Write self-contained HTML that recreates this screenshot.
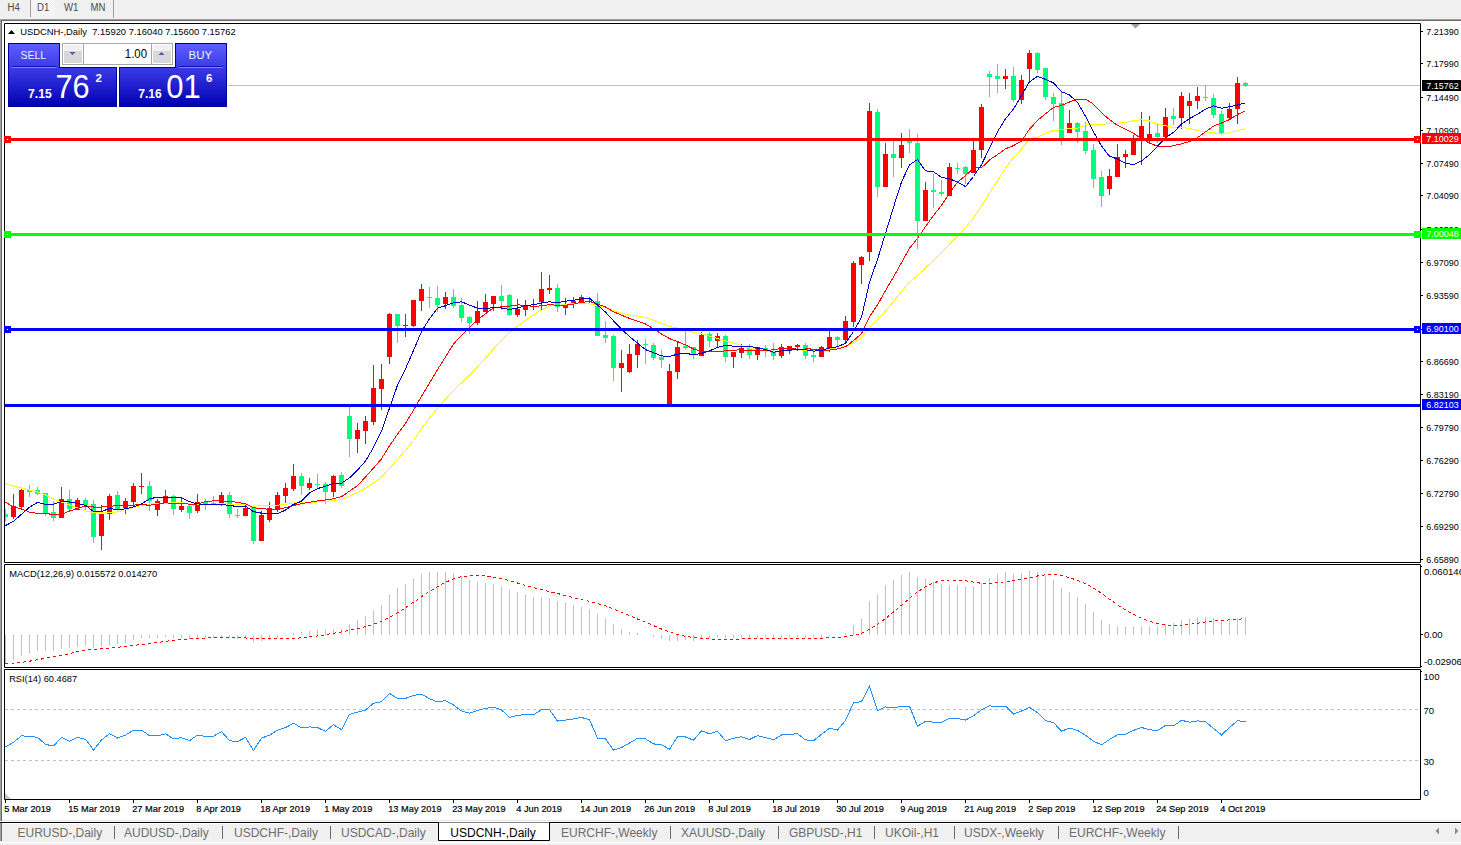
<!DOCTYPE html><html><head><meta charset="utf-8"><style>
html,body{margin:0;padding:0;width:1461px;height:845px;overflow:hidden;background:#fff}
svg{display:block}
text{font-family:"Liberation Sans",sans-serif}
</style></head><body>
<svg width="1461" height="845" viewBox="0 0 1461 845">
<defs>
<pattern id="chk" width="2" height="2" patternUnits="userSpaceOnUse"><rect width="2" height="2" fill="#f0f0f0"/><rect width="1" height="1" fill="#fafafa"/><rect x="1" y="1" width="1" height="1" fill="#fafafa"/></pattern>
<linearGradient id="gTab" x1="0" y1="0" x2="0" y2="1"><stop offset="0" stop-color="#5a5aff"/><stop offset="1" stop-color="#3232e6"/></linearGradient>
<linearGradient id="gBig" x1="0" y1="0" x2="0" y2="1"><stop offset="0" stop-color="#3c3cea"/><stop offset="1" stop-color="#0000b4"/></linearGradient>
<linearGradient id="gBtn" x1="0" y1="0" x2="0" y2="1"><stop offset="0" stop-color="#f2f2f2"/><stop offset="1" stop-color="#d2d2d2"/></linearGradient>
<clipPath id="cMain"><rect x="5" y="24" width="1415" height="538"/></clipPath>
<clipPath id="cMacd"><rect x="5" y="565" width="1415" height="102"/></clipPath>
<clipPath id="cRsi"><rect x="5" y="670" width="1415" height="129"/></clipPath>
</defs>

<rect x="0" y="0" width="1461" height="19" fill="#f0f0f0"/>
<rect x="31" y="0" width="24" height="17" fill="url(#chk)"/>
<rect x="30" y="0" width="1" height="17" fill="#a0a0a0"/><rect x="113" y="0" width="1" height="18" fill="#a0a0a0"/>
<text transform="translate(7.5 11) scale(0.96 1)" font-size="10" fill="#4a4a4a" xml:space="preserve">H4</text>
<text transform="translate(37 11) scale(0.96 1)" font-size="10" fill="#4a4a4a" xml:space="preserve">D1</text>
<text transform="translate(64 11) scale(0.96 1)" font-size="10" fill="#4a4a4a" xml:space="preserve">W1</text>
<text transform="translate(90.5 11) scale(0.96 1)" font-size="10" fill="#4a4a4a" xml:space="preserve">MN</text>
<rect x="0" y="19" width="1461" height="1" fill="#a0a0a0"/><rect x="1" y="20" width="1460" height="1" fill="#696969"/>
<rect x="0" y="19" width="1" height="802" fill="#a0a0a0"/><rect x="1" y="20" width="1" height="801" fill="#696969"/>
<path d="M4.5 23.5H1420.5V562.5H4.5Z" fill="none" stroke="#000" stroke-width="1"/>
<path d="M4.5 564.5H1420.5V667.5H4.5Z" fill="none" stroke="#000" stroke-width="1"/>
<path d="M4.5 669.5H1420.5V799.5H4.5Z" fill="none" stroke="#000" stroke-width="1"/>
<g clip-path="url(#cMain)" shape-rendering="crispEdges">
<rect x="5" y="85" width="1415" height="1" fill="#c0c0c0"/>
<path d="M13.5 494V519M21.5 488V510M61.5 487V518M77.5 498V510M101.5 505V550M109.5 494V520M125.5 498V514M133.5 483V506M141.5 473V494M157.5 499V516M165.5 490V503M181.5 497V512M197.5 494V513M221.5 492V506M245.5 507V516M261.5 511V541M269.5 502V522M277.5 492V512M285.5 483V503M293.5 464V491M309.5 478V490M333.5 475V497M357.5 423V453M365.5 416V444M373.5 365V425M381.5 364V410M389.5 313V364M405.5 314V337M413.5 300V327M421.5 284V311M445.5 292V309M477.5 301V325M485.5 294V312M493.5 296V311M517.5 299V317M525.5 300V316M533.5 299V310M541.5 272V310M549.5 275V294M565.5 298V315M573.5 297V308M581.5 295V303M589.5 297V303M621.5 350V392M629.5 344V373M637.5 340V368M669.5 364V404M677.5 342V379M701.5 332V356M717.5 333V347M733.5 352V368M741.5 344V358M757.5 347V360M781.5 344V358M789.5 346V354M797.5 344V351M821.5 346V357M829.5 331V352M845.5 316V343M853.5 261V327M861.5 256V284M869.5 103V261M885.5 143V187M901.5 133V168M925.5 182V221M949.5 163V196M973.5 141V173M981.5 104V158M1005.5 69V89M1021.5 75V104M1029.5 50V81M1069.5 110V133M1109.5 169V195M1117.5 144V177M1125.5 150V168M1133.5 135V155M1141.5 112V165M1149.5 116V143M1165.5 108V137M1181.5 92V129M1189.5 93V124M1197.5 87V109M1229.5 103V119M1237.5 77V124" stroke="#ff0000" stroke-width="1" fill="none"/>
<path d="M5.5 509V521M29.5 485V497M37.5 487V495M45.5 493V516M53.5 501V521M69.5 490V511M85.5 498V510M93.5 500V543M117.5 491V510M149.5 481V511M173.5 495V515M189.5 505V519M205.5 499V510M213.5 496V504M229.5 492V518M237.5 509V518M253.5 506V544M301.5 473V495M317.5 474V488M325.5 482V504M341.5 472V488M349.5 407V457M397.5 314V343M429.5 287V308M437.5 286V312M453.5 289V308M461.5 298V322M469.5 316V334M501.5 285V310M509.5 294V316M557.5 284V312M597.5 293V336M605.5 321V343M613.5 335V381M645.5 339V364M653.5 343V360M661.5 350V368M685.5 331V350M693.5 347V359M709.5 332V347M725.5 335V362M749.5 344V359M765.5 345V357M773.5 343V360M805.5 343V359M813.5 351V362M837.5 336V347M877.5 109V197M893.5 141V177M909.5 129V153M917.5 134V249M933.5 174V208M941.5 180V196M957.5 163V174M965.5 166V184M989.5 71V97M997.5 64V93M1013.5 67V102M1037.5 52V73M1045.5 68V100M1053.5 93V121M1061.5 91V145M1077.5 122V143M1085.5 122V154M1093.5 144V188M1101.5 171V207M1157.5 123V143M1173.5 108V125M1205.5 85V101M1213.5 94V118M1221.5 111V134M1245.5 82V87" stroke="#00ff7f" stroke-width="1" fill="none"/>
<path d="M11 506h5v11h-5zM19 490h5v17h-5zM59 499h5v19h-5zM75 500h5v10h-5zM99 514h5v22h-5zM107 496h5v18h-5zM123 501h5v7h-5zM131 486h5v16h-5zM139 486h5v1h-5zM155 501h5v9h-5zM163 496h5v7h-5zM179 506h5v4h-5zM195 502h5v9h-5zM219 495h5v8h-5zM243 508h5v8h-5zM259 515h5v26h-5zM267 508h5v12h-5zM275 495h5v15h-5zM283 488h5v8h-5zM291 476h5v13h-5zM307 483h5v5h-5zM331 476h5v16h-5zM355 430h5v9h-5zM363 421h5v10h-5zM371 388h5v34h-5zM379 379h5v10h-5zM387 314h5v43h-5zM403 325h5v1h-5zM411 300h5v26h-5zM419 289h5v12h-5zM443 297h5v7h-5zM475 311h5v12h-5zM483 302h5v10h-5zM491 296h5v8h-5zM515 309h5v6h-5zM523 305h5v5h-5zM531 306h5v1h-5zM539 289h5v13h-5zM547 288h5v2h-5zM563 305h5v3h-5zM571 301h5v3h-5zM579 297h5v6h-5zM587 301h5v1h-5zM619 363h5v5h-5zM627 354h5v18h-5zM635 344h5v11h-5zM667 371h5v33h-5zM675 347h5v25h-5zM699 335h5v21h-5zM715 336h5v5h-5zM731 352h5v5h-5zM739 348h5v5h-5zM755 347h5v8h-5zM779 347h5v9h-5zM787 346h5v5h-5zM795 345h5v2h-5zM819 347h5v10h-5zM827 337h5v13h-5zM843 321h5v19h-5zM851 263h5v59h-5zM859 257h5v8h-5zM867 111h5v141h-5zM883 154h5v33h-5zM899 145h5v13h-5zM923 190h5v31h-5zM947 167h5v29h-5zM971 150h5v23h-5zM979 107h5v43h-5zM1003 76h5v3h-5zM1019 80h5v20h-5zM1027 53h5v16h-5zM1067 123h5v10h-5zM1107 176h5v13h-5zM1115 157h5v20h-5zM1123 154h5v3h-5zM1131 139h5v16h-5zM1139 126h5v15h-5zM1147 134h5v5h-5zM1163 117h5v20h-5zM1179 96h5v22h-5zM1187 101h5v5h-5zM1195 96h5v5h-5zM1227 109h5v9h-5zM1235 83h5v26h-5z" fill="#ff0000"/>
<path d="M3 514h5v3h-5zM27 490h5v2h-5zM35 490h5v4h-5zM43 493h5v20h-5zM51 512h5v6h-5zM67 499h5v10h-5zM83 500h5v5h-5zM91 504h5v33h-5zM115 495h5v14h-5zM147 486h5v15h-5zM171 496h5v13h-5zM187 506h5v7h-5zM203 502h5v2h-5zM211 503h5v1h-5zM227 495h5v19h-5zM235 515h5v1h-5zM251 507h5v34h-5zM299 476h5v10h-5zM315 484h5v1h-5zM323 484h5v8h-5zM339 475h5v11h-5zM347 416h5v23h-5zM395 314h5v12h-5zM427 297h5v1h-5zM435 298h5v7h-5zM451 297h5v9h-5zM459 305h5v13h-5zM467 317h5v6h-5zM499 296h5v5h-5zM507 295h5v20h-5zM555 288h5v19h-5zM595 301h5v35h-5zM603 335h5v3h-5zM611 336h5v32h-5zM643 344h5v1h-5zM651 345h5v13h-5zM659 357h5v3h-5zM683 346h5v2h-5zM691 347h5v8h-5zM707 334h5v7h-5zM723 336h5v21h-5zM747 348h5v7h-5zM763 348h5v3h-5zM771 351h5v5h-5zM803 345h5v11h-5zM811 355h5v2h-5zM835 337h5v3h-5zM875 112h5v75h-5zM891 154h5v4h-5zM907 141h5v2h-5zM915 143h5v78h-5zM931 190h5v2h-5zM939 192h5v2h-5zM955 168h5v1h-5zM963 167h5v7h-5zM987 74h5v3h-5zM995 76h5v3h-5zM1011 76h5v24h-5zM1035 53h5v17h-5zM1043 68h5v29h-5zM1051 97h5v7h-5zM1059 103h5v35h-5zM1075 123h5v9h-5zM1083 131h5v20h-5zM1091 150h5v29h-5zM1099 177h5v19h-5zM1155 133h5v4h-5zM1171 116h5v3h-5zM1203 97h5v1h-5zM1211 98h5v17h-5zM1219 114h5v19h-5zM1243 83h5v3h-5z" fill="#00ff7f"/>
</g>
<polyline clip-path="url(#cMain)" points="-3.5,483.5 5.5,483.5 13.5,486.0 21.5,488.0 29.5,490.0 37.5,492.0 45.5,495.0 53.5,499.0 61.5,502.0 69.5,505.0 77.5,508.0 85.5,511.0 93.5,512.5 101.5,513.0 109.5,512.5 117.5,511.9 125.5,509.7 133.5,507.6 141.5,505.3 149.5,504.0 157.5,503.3 165.5,503.2 173.5,502.8 181.5,502.8 189.5,503.9 197.5,504.4 205.5,504.9 213.5,504.5 221.5,503.4 229.5,504.1 237.5,504.4 245.5,504.8 253.5,506.5 261.5,505.5 269.5,505.2 277.5,505.2 285.5,504.2 293.5,503.0 301.5,502.9 309.5,502.8 317.5,502.0 325.5,501.6 333.5,500.6 341.5,499.5 349.5,496.3 357.5,492.4 365.5,488.5 373.5,483.0 381.5,477.1 389.5,468.5 397.5,459.5 405.5,450.4 413.5,440.5 421.5,428.5 429.5,418.2 437.5,408.5 445.5,399.1 453.5,390.4 461.5,382.9 469.5,375.1 477.5,366.9 485.5,358.3 493.5,348.9 501.5,340.6 509.5,332.5 517.5,326.3 525.5,320.3 533.5,314.9 541.5,310.1 549.5,305.8 557.5,305.5 565.5,304.5 573.5,303.3 581.5,303.2 589.5,303.8 597.5,305.6 605.5,307.1 613.5,310.5 621.5,313.2 629.5,314.9 637.5,315.9 645.5,317.6 653.5,320.2 661.5,323.3 669.5,326.6 677.5,328.2 685.5,330.0 693.5,332.4 701.5,333.8 709.5,336.2 717.5,338.5 725.5,340.9 733.5,343.1 741.5,345.4 749.5,348.1 757.5,350.3 765.5,351.1 773.5,351.9 781.5,350.9 789.5,350.1 797.5,349.7 805.5,350.3 813.5,350.8 821.5,350.3 829.5,349.2 837.5,347.7 845.5,346.5 853.5,342.5 861.5,337.8 869.5,327.2 877.5,319.8 885.5,311.1 893.5,301.7 901.5,291.8 909.5,282.0 917.5,275.6 925.5,268.1 933.5,260.5 941.5,252.8 949.5,244.2 957.5,235.8 965.5,227.6 973.5,217.9 981.5,206.0 989.5,193.1 997.5,180.8 1005.5,168.2 1013.5,157.7 1021.5,149.0 1029.5,139.3 1037.5,137.3 1045.5,133.1 1053.5,130.7 1061.5,129.7 1069.5,128.7 1077.5,128.2 1085.5,124.9 1093.5,124.3 1101.5,124.5 1109.5,123.7 1117.5,123.2 1125.5,122.5 1133.5,120.8 1141.5,119.7 1149.5,121.0 1157.5,123.8 1165.5,125.7 1173.5,127.7 1181.5,127.5 1189.5,128.5 1197.5,130.5 1205.5,131.9 1213.5,132.7 1221.5,134.1 1229.5,132.7 1237.5,130.8 1245.5,128.6" fill="none" stroke="#ffff00" stroke-width="1" shape-rendering="crispEdges"/>
<polyline clip-path="url(#cMain)" points="-3.5,502.3 5.5,502.3 13.5,506.9 21.5,508.7 29.5,512.3 37.5,513.4 45.5,513.4 53.5,514.6 61.5,514.5 69.5,511.0 77.5,508.5 85.5,506.0 93.5,507.0 101.5,507.0 109.5,506.3 117.5,505.7 125.5,505.4 133.5,505.1 141.5,504.7 149.5,505.2 157.5,504.3 165.5,502.8 173.5,503.5 181.5,503.3 189.5,504.2 197.5,504.0 205.5,501.6 213.5,500.9 221.5,500.9 229.5,501.2 237.5,502.3 245.5,503.8 253.5,507.7 261.5,508.8 269.5,509.2 277.5,509.2 285.5,507.7 293.5,505.5 301.5,503.6 309.5,502.3 317.5,500.9 325.5,500.0 333.5,498.7 341.5,496.7 349.5,491.2 357.5,485.6 365.5,477.0 373.5,468.0 381.5,458.8 389.5,445.8 397.5,434.2 405.5,423.4 413.5,410.2 421.5,396.3 429.5,383.0 437.5,369.7 445.5,356.9 453.5,344.0 461.5,335.4 469.5,327.7 477.5,319.9 485.5,313.7 493.5,307.8 501.5,306.8 509.5,306.1 517.5,304.9 525.5,305.3 533.5,306.5 541.5,305.8 549.5,304.6 557.5,305.4 565.5,305.3 573.5,304.1 581.5,302.3 589.5,301.6 597.5,304.0 605.5,307.0 613.5,311.7 621.5,315.2 629.5,318.4 637.5,321.1 645.5,324.0 653.5,328.9 661.5,334.0 669.5,338.6 677.5,341.6 685.5,344.9 693.5,349.0 701.5,351.5 709.5,351.8 717.5,351.7 725.5,350.9 733.5,350.2 741.5,349.8 749.5,350.5 757.5,350.7 765.5,350.2 773.5,349.9 781.5,348.2 789.5,348.1 797.5,348.0 805.5,348.0 813.5,349.6 821.5,350.0 829.5,350.1 837.5,348.9 845.5,346.7 853.5,340.6 861.5,333.6 869.5,316.7 877.5,304.9 885.5,290.6 893.5,277.0 901.5,262.6 909.5,248.2 917.5,238.5 925.5,226.6 933.5,215.5 941.5,205.3 949.5,193.0 957.5,182.1 965.5,175.7 973.5,168.1 981.5,167.8 989.5,159.9 997.5,154.6 1005.5,148.8 1013.5,145.6 1021.5,141.1 1029.5,129.1 1037.5,120.5 1045.5,113.8 1053.5,107.4 1061.5,105.3 1069.5,102.0 1077.5,99.0 1085.5,99.0 1093.5,104.2 1101.5,112.7 1109.5,119.6 1117.5,125.4 1125.5,129.2 1133.5,133.4 1141.5,138.6 1149.5,143.2 1157.5,146.1 1165.5,147.0 1173.5,145.7 1181.5,143.8 1189.5,141.6 1197.5,137.6 1205.5,131.9 1213.5,126.1 1221.5,123.0 1229.5,119.6 1237.5,114.5 1245.5,110.7" fill="none" stroke="#ff0000" stroke-width="1" shape-rendering="crispEdges"/>
<polyline clip-path="url(#cMain)" points="-3.5,525.6 5.5,525.6 13.5,521.3 21.5,514.2 29.5,507.3 37.5,502.3 45.5,504.4 53.5,504.2 61.5,501.6 69.5,502.0 77.5,503.4 85.5,505.3 93.5,511.5 101.5,511.6 109.5,508.4 117.5,509.8 125.5,508.8 133.5,506.8 141.5,504.0 149.5,498.9 157.5,497.1 165.5,497.1 173.5,497.1 181.5,497.8 189.5,501.7 197.5,503.9 205.5,504.4 213.5,504.8 221.5,504.6 229.5,505.3 237.5,506.7 245.5,506.0 253.5,511.6 261.5,513.2 269.5,513.7 277.5,513.7 285.5,510.1 293.5,504.4 301.5,501.2 309.5,492.9 317.5,488.6 325.5,486.2 333.5,483.6 341.5,483.2 349.5,477.9 357.5,470.0 365.5,461.1 373.5,447.4 381.5,431.3 389.5,408.1 397.5,385.2 405.5,368.9 413.5,350.4 421.5,331.5 429.5,318.7 437.5,308.1 445.5,305.7 453.5,302.8 461.5,301.8 469.5,305.1 477.5,308.2 485.5,308.7 493.5,307.4 501.5,308.0 509.5,309.4 517.5,308.0 525.5,305.6 533.5,304.8 541.5,303.0 549.5,301.8 557.5,302.7 565.5,301.2 573.5,300.2 581.5,299.0 589.5,298.3 597.5,305.0 605.5,312.1 613.5,320.8 621.5,329.1 629.5,336.6 637.5,343.3 645.5,349.6 653.5,352.7 661.5,355.9 669.5,356.4 677.5,354.2 685.5,353.2 693.5,354.8 701.5,353.3 709.5,350.9 717.5,347.5 725.5,345.4 733.5,346.2 741.5,346.3 749.5,346.3 757.5,348.0 765.5,349.5 773.5,352.3 781.5,351.0 789.5,350.1 797.5,349.6 805.5,349.7 813.5,351.1 821.5,350.5 829.5,347.9 837.5,346.8 845.5,343.2 853.5,331.5 861.5,317.5 869.5,282.3 877.5,259.4 885.5,233.3 893.5,207.2 901.5,182.0 909.5,164.8 917.5,159.6 925.5,170.9 933.5,171.7 941.5,177.4 949.5,178.7 957.5,182.1 965.5,186.6 973.5,176.5 981.5,164.7 989.5,148.2 997.5,131.8 1005.5,118.8 1013.5,109.0 1021.5,95.6 1029.5,81.8 1037.5,76.4 1045.5,79.4 1053.5,82.9 1061.5,91.7 1069.5,95.0 1077.5,102.3 1085.5,116.3 1093.5,131.9 1101.5,146.0 1109.5,156.3 1117.5,159.0 1125.5,163.4 1133.5,164.5 1141.5,161.0 1149.5,154.6 1157.5,146.2 1165.5,137.8 1173.5,132.4 1181.5,124.1 1189.5,118.6 1197.5,114.3 1205.5,109.1 1213.5,105.9 1221.5,108.2 1229.5,106.8 1237.5,105.0 1245.5,102.8" fill="none" stroke="#0000cd" stroke-width="1" shape-rendering="crispEdges"/>
<rect x="5" y="138" width="1415" height="3" fill="#ff0000"/>
<rect x="5" y="233" width="1415" height="3" fill="#00ff00"/>
<rect x="5" y="328" width="1415" height="3" fill="#0000ff"/>
<rect x="5" y="404" width="1415" height="3" fill="#0000ff"/>
<rect x="4" y="136" width="7" height="7" fill="#ff0000"/><rect x="7" y="139" width="1" height="1" fill="#fff"/>
<rect x="1414" y="136" width="7" height="7" fill="#ff0000"/><rect x="1417" y="139" width="1" height="1" fill="#fff"/>
<rect x="4" y="231" width="7" height="7" fill="#00ff00"/><rect x="7" y="234" width="1" height="1" fill="#fff"/>
<rect x="1414" y="231" width="7" height="7" fill="#00ff00"/><rect x="1417" y="234" width="1" height="1" fill="#fff"/>
<rect x="4" y="326" width="7" height="7" fill="#0000ff"/><rect x="7" y="329" width="1" height="1" fill="#fff"/>
<rect x="1414" y="326" width="7" height="7" fill="#0000ff"/><rect x="1417" y="329" width="1" height="1" fill="#fff"/>
<path d="M1131 24H1140L1135.5 28.5Z" fill="#a0a0a0"/>
<path d="M8 34H15L11.5 30Z" fill="#000"/>
<text x="20.2" y="35" font-size="9.7" fill="#000" textLength="215.5" lengthAdjust="spacingAndGlyphs" xml:space="preserve">USDCNH-,Daily  7.15920 7.16040 7.15600 7.15762</text>
<rect x="1421" y="31" width="2" height="1" fill="#000"/>
<text x="1426.2" y="34.6" font-size="9.5" fill="#000" textLength="32.6" lengthAdjust="spacingAndGlyphs" xml:space="preserve">7.21390</text>
<rect x="1421" y="63" width="2" height="1" fill="#000"/>
<text x="1426.2" y="66.6" font-size="9.5" fill="#000" textLength="32.6" lengthAdjust="spacingAndGlyphs" xml:space="preserve">7.17990</text>
<rect x="1421" y="97" width="2" height="1" fill="#000"/>
<text x="1426.2" y="100.6" font-size="9.5" fill="#000" textLength="32.6" lengthAdjust="spacingAndGlyphs" xml:space="preserve">7.14490</text>
<rect x="1421" y="130" width="2" height="1" fill="#000"/>
<text x="1426.2" y="133.6" font-size="9.5" fill="#000" textLength="32.6" lengthAdjust="spacingAndGlyphs" xml:space="preserve">7.10990</text>
<rect x="1421" y="163" width="2" height="1" fill="#000"/>
<text x="1426.2" y="166.6" font-size="9.5" fill="#000" textLength="32.6" lengthAdjust="spacingAndGlyphs" xml:space="preserve">7.07490</text>
<rect x="1421" y="195" width="2" height="1" fill="#000"/>
<text x="1426.2" y="198.6" font-size="9.5" fill="#000" textLength="32.6" lengthAdjust="spacingAndGlyphs" xml:space="preserve">7.04090</text>
<rect x="1421" y="229" width="2" height="1" fill="#000"/>
<text x="1426.2" y="232.6" font-size="9.5" fill="#000" textLength="32.6" lengthAdjust="spacingAndGlyphs" xml:space="preserve">7.00590</text>
<rect x="1421" y="262" width="2" height="1" fill="#000"/>
<text x="1426.2" y="265.6" font-size="9.5" fill="#000" textLength="32.6" lengthAdjust="spacingAndGlyphs" xml:space="preserve">6.97090</text>
<rect x="1421" y="295" width="2" height="1" fill="#000"/>
<text x="1426.2" y="298.6" font-size="9.5" fill="#000" textLength="32.6" lengthAdjust="spacingAndGlyphs" xml:space="preserve">6.93590</text>
<rect x="1421" y="329" width="2" height="1" fill="#000"/>
<text x="1426.2" y="332.6" font-size="9.5" fill="#000" textLength="32.6" lengthAdjust="spacingAndGlyphs" xml:space="preserve">6.90090</text>
<rect x="1421" y="361" width="2" height="1" fill="#000"/>
<text x="1426.2" y="364.6" font-size="9.5" fill="#000" textLength="32.6" lengthAdjust="spacingAndGlyphs" xml:space="preserve">6.86690</text>
<rect x="1421" y="394" width="2" height="1" fill="#000"/>
<text x="1426.2" y="397.6" font-size="9.5" fill="#000" textLength="32.6" lengthAdjust="spacingAndGlyphs" xml:space="preserve">6.83190</text>
<rect x="1421" y="427" width="2" height="1" fill="#000"/>
<text x="1426.2" y="430.6" font-size="9.5" fill="#000" textLength="32.6" lengthAdjust="spacingAndGlyphs" xml:space="preserve">6.79790</text>
<rect x="1421" y="460" width="2" height="1" fill="#000"/>
<text x="1426.2" y="463.6" font-size="9.5" fill="#000" textLength="32.6" lengthAdjust="spacingAndGlyphs" xml:space="preserve">6.76290</text>
<rect x="1421" y="493" width="2" height="1" fill="#000"/>
<text x="1426.2" y="496.6" font-size="9.5" fill="#000" textLength="32.6" lengthAdjust="spacingAndGlyphs" xml:space="preserve">6.72790</text>
<rect x="1421" y="526" width="2" height="1" fill="#000"/>
<text x="1426.2" y="529.6" font-size="9.5" fill="#000" textLength="32.6" lengthAdjust="spacingAndGlyphs" xml:space="preserve">6.69290</text>
<rect x="1421" y="559" width="2" height="1" fill="#000"/>
<text x="1426.2" y="562.6" font-size="9.5" fill="#000" textLength="32.6" lengthAdjust="spacingAndGlyphs" xml:space="preserve">6.65890</text>
<rect x="1422" y="80" width="39" height="11" fill="#000"/>
<text x="1426.3" y="89.3" font-size="9.5" fill="#fff" textLength="32.4" lengthAdjust="spacingAndGlyphs" xml:space="preserve">7.15762</text>
<rect x="1422" y="133" width="39" height="11" fill="#ff0000"/>
<text x="1426.3" y="142.3" font-size="9.5" fill="#fff" textLength="32.4" lengthAdjust="spacingAndGlyphs" xml:space="preserve">7.10029</text>
<rect x="1422" y="228" width="39" height="11" fill="#00ff00"/>
<text x="1426.3" y="237.3" font-size="9.5" fill="#fff" textLength="32.4" lengthAdjust="spacingAndGlyphs" xml:space="preserve">7.00048</text>
<rect x="1422" y="323" width="39" height="11" fill="#0000ff"/>
<text x="1426.3" y="332.3" font-size="9.5" fill="#fff" textLength="32.4" lengthAdjust="spacingAndGlyphs" xml:space="preserve">6.90100</text>
<rect x="1422" y="399" width="39" height="11" fill="#0000ff"/>
<text x="1426.3" y="408.3" font-size="9.5" fill="#fff" textLength="32.4" lengthAdjust="spacingAndGlyphs" xml:space="preserve">6.82103</text>
<text x="9.2" y="577" font-size="9.6" fill="#000" textLength="148" lengthAdjust="spacingAndGlyphs" xml:space="preserve">MACD(12,26,9) 0.015572 0.014270</text>
<path clip-path="url(#cMacd)" shape-rendering="crispEdges" d="M5.5 635V663M13.5 635V660M21.5 635V656M29.5 635V653M37.5 635V651M45.5 635V651M53.5 635V651M61.5 635V649M69.5 635V648M77.5 635V647M85.5 635V646M93.5 635V648M101.5 635V647M109.5 635V645M117.5 635V644M125.5 635V643M133.5 635V640M141.5 635V638M149.5 635V638M157.5 635V638M165.5 635V637M173.5 635V638M181.5 635V638M189.5 635V639M197.5 635V638M205.5 635V638M213.5 635V638M221.5 635V637M229.5 635V638M237.5 635V639M245.5 635V638M253.5 635V642M261.5 635V641M269.5 635V640M277.5 635V638M285.5 635V636M293.5 633V635M301.5 632V635M309.5 631V635M317.5 630V635M325.5 630V635M333.5 629V635M341.5 629V635M349.5 624V635M357.5 620V635M365.5 616V635M373.5 610V635M381.5 605V635M389.5 595V635M397.5 588V635M405.5 584V635M413.5 579V635M421.5 574V635M429.5 572V635M437.5 572V635M445.5 572V635M453.5 573V635M461.5 576V635M469.5 580V635M477.5 582V635M485.5 583V635M493.5 584V635M501.5 586V635M509.5 590V635M517.5 592V635M525.5 595V635M533.5 597V635M541.5 597V635M549.5 598V635M557.5 601V635M565.5 603V635M573.5 605V635M581.5 607V635M589.5 609V635M597.5 614V635M605.5 618V635M613.5 624V635M621.5 629V635M629.5 632V635M637.5 633V635M645.5 635V635M653.5 635V637M661.5 635V639M669.5 635V641M677.5 635V641M685.5 635V640M693.5 635V641M701.5 635V639M709.5 635V638M717.5 635V637M725.5 635V638M733.5 635V638M741.5 635V638M749.5 635V639M757.5 635V638M765.5 635V638M773.5 635V639M781.5 635V638M789.5 635V638M797.5 635V637M805.5 635V638M813.5 635V638M821.5 635V638M829.5 635V636M837.5 635V635M845.5 633V635M853.5 625V635M861.5 619V635M869.5 601V635M877.5 594V635M885.5 585V635M893.5 580V635M901.5 575V635M909.5 572V635M917.5 577V635M925.5 579V635M933.5 582V635M941.5 584V635M949.5 585V635M957.5 585V635M965.5 587V635M973.5 587V635M981.5 583V635M989.5 578V635M997.5 574V635M1005.5 572V635M1013.5 574V635M1021.5 573V635M1029.5 571V635M1037.5 572V635M1045.5 576V635M1053.5 580V635M1061.5 588V635M1069.5 592V635M1077.5 597V635M1085.5 604V635M1093.5 612V635M1101.5 620V635M1109.5 624V635M1117.5 626V635M1125.5 627V635M1133.5 627V635M1141.5 626V635M1149.5 626V635M1157.5 626V635M1165.5 624V635M1173.5 623V635M1181.5 620V635M1189.5 619V635M1197.5 617V635M1205.5 617V635M1213.5 618V635M1221.5 621V635M1229.5 621V635M1237.5 618V635M1245.5 617V635" stroke="#c0c0c0" stroke-width="1" fill="none"/>
<polyline clip-path="url(#cMacd)" points="5.5,663.5 13.5,663.1 21.5,662.3 29.5,661.2 37.5,659.7 45.5,658.3 53.5,656.9 61.5,655.3 69.5,653.6 77.5,651.8 85.5,650.2 93.5,649.3 101.5,648.7 109.5,648.0 117.5,647.3 125.5,646.5 133.5,645.5 141.5,644.4 149.5,643.4 157.5,642.5 165.5,641.3 173.5,640.2 181.5,639.4 189.5,638.8 197.5,638.3 205.5,638.0 213.5,637.9 221.5,637.8 229.5,637.8 237.5,637.9 245.5,638.0 253.5,638.4 261.5,638.7 269.5,638.9 277.5,639.0 285.5,638.8 293.5,638.4 301.5,637.8 309.5,636.9 317.5,636.0 325.5,634.7 333.5,633.3 341.5,631.9 349.5,630.3 357.5,628.5 365.5,626.6 373.5,624.2 381.5,621.3 389.5,617.3 397.5,612.7 405.5,607.8 413.5,602.2 421.5,596.7 429.5,591.4 437.5,586.5 445.5,582.3 453.5,578.8 461.5,576.7 469.5,575.7 477.5,575.5 485.5,576.0 493.5,577.1 501.5,578.7 509.5,580.7 517.5,583.0 525.5,585.4 533.5,587.7 541.5,589.7 549.5,591.5 557.5,593.5 565.5,595.6 573.5,597.7 581.5,599.6 589.5,601.4 597.5,603.5 605.5,605.8 613.5,608.8 621.5,612.3 629.5,615.7 637.5,619.0 645.5,622.3 653.5,625.6 661.5,629.0 669.5,632.0 677.5,634.5 685.5,636.3 693.5,637.6 701.5,638.4 709.5,638.9 717.5,639.2 725.5,639.3 733.5,639.3 741.5,639.0 749.5,638.8 757.5,638.6 765.5,638.3 773.5,638.3 781.5,638.3 789.5,638.4 797.5,638.3 805.5,638.2 813.5,638.2 821.5,638.1 829.5,637.8 837.5,637.5 845.5,636.8 853.5,635.4 861.5,633.3 869.5,629.2 877.5,624.3 885.5,618.5 893.5,612.0 901.5,605.3 909.5,598.2 917.5,592.0 925.5,586.9 933.5,582.7 941.5,580.9 949.5,580.0 957.5,580.0 965.5,580.8 973.5,582.1 981.5,583.3 989.5,583.3 997.5,582.8 1005.5,581.7 1013.5,580.5 1021.5,579.3 1029.5,577.7 1037.5,576.0 1045.5,574.8 1053.5,574.5 1061.5,575.6 1069.5,577.6 1077.5,580.4 1085.5,583.8 1093.5,588.0 1101.5,593.4 1109.5,599.2 1117.5,604.8 1125.5,610.0 1133.5,614.4 1141.5,618.1 1149.5,621.3 1157.5,623.7 1165.5,625.1 1173.5,625.5 1181.5,625.1 1189.5,624.3 1197.5,623.2 1205.5,622.0 1213.5,621.1 1221.5,620.5 1229.5,619.9 1237.5,619.3 1245.5,618.6" fill="none" stroke="#ff0000" stroke-width="1" stroke-dasharray="3 3" shape-rendering="crispEdges"/>
<text x="1424" y="574.8" font-size="9.6" fill="#000" xml:space="preserve">0.060146</text>
<text x="1424" y="638.2" font-size="9.6" fill="#000" xml:space="preserve">0.00</text>
<text x="1424" y="664.9" font-size="9.6" fill="#000" xml:space="preserve">-0.029060</text>
<rect x="1421" y="566" width="1" height="1" fill="#000"/><rect x="1421" y="634" width="2" height="1" fill="#000"/><rect x="1421" y="666" width="1" height="1" fill="#000"/>
<text x="9.2" y="682" font-size="9.6" fill="#000" textLength="67.9" lengthAdjust="spacingAndGlyphs" xml:space="preserve">RSI(14) 60.4687</text>
<path shape-rendering="crispEdges" d="M5 709.5H1420M5 760.5H1420" stroke="#c0c0c0" stroke-width="1" stroke-dasharray="3 3"/>
<polyline clip-path="url(#cRsi)" points="5.5,747.1 13.5,742.3 21.5,735.8 29.5,736.4 37.5,737.3 45.5,744.4 53.5,746.0 61.5,737.5 69.5,741.1 77.5,737.3 85.5,739.3 93.5,750.0 101.5,740.0 109.5,733.6 117.5,738.0 125.5,735.2 133.5,730.0 141.5,730.0 149.5,735.7 157.5,735.9 165.5,733.8 173.5,738.9 181.5,737.7 189.5,740.6 197.5,735.2 205.5,736.3 213.5,736.2 221.5,731.6 229.5,740.6 237.5,741.7 245.5,737.3 253.5,750.5 261.5,738.1 269.5,735.2 277.5,730.1 285.5,727.6 293.5,723.2 301.5,727.8 309.5,726.9 317.5,727.6 325.5,731.2 333.5,724.7 341.5,729.7 349.5,714.3 357.5,712.1 365.5,710.0 373.5,703.3 381.5,701.7 389.5,693.3 397.5,698.5 405.5,698.4 413.5,695.4 421.5,694.1 429.5,698.7 437.5,701.9 445.5,700.6 453.5,704.9 461.5,710.9 469.5,713.2 477.5,710.4 485.5,708.5 493.5,707.1 501.5,709.9 509.5,717.3 517.5,715.5 525.5,714.5 533.5,714.8 541.5,709.8 549.5,709.6 557.5,721.1 565.5,720.1 573.5,718.9 581.5,717.4 589.5,719.8 597.5,738.1 605.5,738.9 613.5,750.1 621.5,747.5 629.5,743.1 637.5,738.3 645.5,738.9 653.5,743.9 661.5,744.8 669.5,749.2 677.5,736.7 685.5,737.0 693.5,740.2 701.5,730.9 709.5,733.7 717.5,731.3 725.5,740.7 733.5,738.4 741.5,736.7 749.5,739.5 757.5,735.6 765.5,737.7 773.5,739.7 781.5,735.0 789.5,734.3 797.5,733.8 805.5,739.9 813.5,740.7 821.5,734.3 829.5,728.2 837.5,730.1 845.5,720.4 853.5,702.8 861.5,701.6 869.5,686.2 877.5,710.6 885.5,706.9 893.5,707.9 901.5,706.4 909.5,706.2 917.5,726.2 925.5,721.5 933.5,722.1 941.5,722.4 949.5,718.1 957.5,718.6 965.5,720.0 973.5,715.9 981.5,709.7 989.5,705.9 997.5,706.6 1005.5,706.2 1013.5,714.1 1021.5,711.0 1029.5,707.3 1037.5,712.6 1045.5,720.6 1053.5,722.5 1061.5,731.2 1069.5,728.1 1077.5,730.4 1085.5,735.1 1093.5,741.3 1101.5,744.8 1109.5,739.5 1117.5,734.8 1125.5,734.2 1133.5,730.4 1141.5,727.4 1149.5,729.8 1157.5,730.5 1165.5,725.4 1173.5,726.0 1181.5,720.3 1189.5,722.2 1197.5,720.9 1205.5,721.7 1213.5,728.4 1221.5,734.9 1229.5,727.4 1237.5,720.7 1245.5,721.7" fill="none" stroke="#1e90ff" stroke-width="1" shape-rendering="crispEdges"/>
<text x="1423.5" y="680" font-size="9.6" fill="#000" xml:space="preserve">100</text>
<text x="1423.5" y="713.6" font-size="9.6" fill="#000" xml:space="preserve">70</text>
<text x="1423.5" y="764.6" font-size="9.6" fill="#000" xml:space="preserve">30</text>
<text x="1423.5" y="796.2" font-size="9.6" fill="#000" xml:space="preserve">0</text>
<rect x="1421" y="671" width="1" height="1" fill="#000"/>
<path d="M5 793V799H11Z" fill="#c8c8c8"/>
<rect x="5" y="800" width="1" height="3" fill="#000"/>
<text transform="translate(4.2 812) scale(0.945 1)" font-size="9.8" fill="#000" xml:space="preserve" stroke="#000" stroke-width="0.2">5 Mar 2019</text>
<rect x="69" y="800" width="1" height="3" fill="#000"/>
<text transform="translate(68.2 812) scale(0.945 1)" font-size="9.8" fill="#000" xml:space="preserve" stroke="#000" stroke-width="0.2">15 Mar 2019</text>
<rect x="133" y="800" width="1" height="3" fill="#000"/>
<text transform="translate(132.2 812) scale(0.945 1)" font-size="9.8" fill="#000" xml:space="preserve" stroke="#000" stroke-width="0.2">27 Mar 2019</text>
<rect x="197" y="800" width="1" height="3" fill="#000"/>
<text transform="translate(196.2 812) scale(0.945 1)" font-size="9.8" fill="#000" xml:space="preserve" stroke="#000" stroke-width="0.2">8 Apr 2019</text>
<rect x="261" y="800" width="1" height="3" fill="#000"/>
<text transform="translate(260.2 812) scale(0.945 1)" font-size="9.8" fill="#000" xml:space="preserve" stroke="#000" stroke-width="0.2">18 Apr 2019</text>
<rect x="325" y="800" width="1" height="3" fill="#000"/>
<text transform="translate(324.2 812) scale(0.945 1)" font-size="9.8" fill="#000" xml:space="preserve" stroke="#000" stroke-width="0.2">1 May 2019</text>
<rect x="389" y="800" width="1" height="3" fill="#000"/>
<text transform="translate(388.2 812) scale(0.945 1)" font-size="9.8" fill="#000" xml:space="preserve" stroke="#000" stroke-width="0.2">13 May 2019</text>
<rect x="453" y="800" width="1" height="3" fill="#000"/>
<text transform="translate(452.2 812) scale(0.945 1)" font-size="9.8" fill="#000" xml:space="preserve" stroke="#000" stroke-width="0.2">23 May 2019</text>
<rect x="517" y="800" width="1" height="3" fill="#000"/>
<text transform="translate(516.2 812) scale(0.945 1)" font-size="9.8" fill="#000" xml:space="preserve" stroke="#000" stroke-width="0.2">4 Jun 2019</text>
<rect x="581" y="800" width="1" height="3" fill="#000"/>
<text transform="translate(580.2 812) scale(0.945 1)" font-size="9.8" fill="#000" xml:space="preserve" stroke="#000" stroke-width="0.2">14 Jun 2019</text>
<rect x="645" y="800" width="1" height="3" fill="#000"/>
<text transform="translate(644.2 812) scale(0.945 1)" font-size="9.8" fill="#000" xml:space="preserve" stroke="#000" stroke-width="0.2">26 Jun 2019</text>
<rect x="709" y="800" width="1" height="3" fill="#000"/>
<text transform="translate(708.2 812) scale(0.945 1)" font-size="9.8" fill="#000" xml:space="preserve" stroke="#000" stroke-width="0.2">8 Jul 2019</text>
<rect x="773" y="800" width="1" height="3" fill="#000"/>
<text transform="translate(772.2 812) scale(0.945 1)" font-size="9.8" fill="#000" xml:space="preserve" stroke="#000" stroke-width="0.2">18 Jul 2019</text>
<rect x="837" y="800" width="1" height="3" fill="#000"/>
<text transform="translate(836.2 812) scale(0.945 1)" font-size="9.8" fill="#000" xml:space="preserve" stroke="#000" stroke-width="0.2">30 Jul 2019</text>
<rect x="901" y="800" width="1" height="3" fill="#000"/>
<text transform="translate(900.2 812) scale(0.945 1)" font-size="9.8" fill="#000" xml:space="preserve" stroke="#000" stroke-width="0.2">9 Aug 2019</text>
<rect x="965" y="800" width="1" height="3" fill="#000"/>
<text transform="translate(964.2 812) scale(0.945 1)" font-size="9.8" fill="#000" xml:space="preserve" stroke="#000" stroke-width="0.2">21 Aug 2019</text>
<rect x="1029" y="800" width="1" height="3" fill="#000"/>
<text transform="translate(1028.2 812) scale(0.945 1)" font-size="9.8" fill="#000" xml:space="preserve" stroke="#000" stroke-width="0.2">2 Sep 2019</text>
<rect x="1093" y="800" width="1" height="3" fill="#000"/>
<text transform="translate(1092.2 812) scale(0.945 1)" font-size="9.8" fill="#000" xml:space="preserve" stroke="#000" stroke-width="0.2">12 Sep 2019</text>
<rect x="1157" y="800" width="1" height="3" fill="#000"/>
<text transform="translate(1156.2 812) scale(0.945 1)" font-size="9.8" fill="#000" xml:space="preserve" stroke="#000" stroke-width="0.2">24 Sep 2019</text>
<rect x="1221" y="800" width="1" height="3" fill="#000"/>
<text transform="translate(1220.2 812) scale(0.945 1)" font-size="9.8" fill="#000" xml:space="preserve" stroke="#000" stroke-width="0.2">4 Oct 2019</text>
<rect x="2" y="820" width="1459" height="1" fill="#e6e6e6"/>
<rect x="0" y="822" width="1461" height="1" fill="#000"/>
<rect x="0" y="823" width="1461" height="22" fill="#f0f0f0"/>
<rect x="2" y="823" width="1459" height="1" fill="#fff"/>
<rect x="0" y="842" width="1461" height="1" fill="#fff"/>
<rect x="0" y="823" width="1" height="18" fill="#a0a0a0"/><rect x="1" y="823" width="1" height="18" fill="#696969"/>
<path d="M438.5 822.5V840.5H549.5V822.5" fill="#fff" stroke="#000" stroke-width="1"/>
<text x="17.5" y="836.5" font-size="12" fill="#6d6d6d">EURUSD-,Daily</text>
<text x="124" y="836.5" font-size="12" fill="#6d6d6d">AUDUSD-,Daily</text>
<text x="234" y="836.5" font-size="12" fill="#6d6d6d">USDCHF-,Daily</text>
<text x="341" y="836.5" font-size="12" fill="#6d6d6d">USDCAD-,Daily</text>
<text x="450.3" y="836.5" font-size="12" fill="#000">USDCNH-,Daily</text>
<text x="561" y="836.5" font-size="12" fill="#6d6d6d">EURCHF-,Weekly</text>
<text x="681" y="836.5" font-size="12" fill="#6d6d6d">XAUUSD-,Daily</text>
<text x="789" y="836.5" font-size="12" fill="#6d6d6d">GBPUSD-,H1</text>
<text x="885" y="836.5" font-size="12" fill="#6d6d6d">UKOil-,H1</text>
<text x="964" y="836.5" font-size="12" fill="#6d6d6d">USDX-,Weekly</text>
<text x="1069" y="836.5" font-size="12" fill="#6d6d6d">EURCHF-,Weekly</text>
<rect x="114" y="826" width="1" height="13" fill="#6d6d6d"/>
<rect x="222" y="826" width="1" height="13" fill="#6d6d6d"/>
<rect x="330" y="826" width="1" height="13" fill="#6d6d6d"/>
<rect x="670" y="826" width="1" height="13" fill="#6d6d6d"/>
<rect x="778" y="826" width="1" height="13" fill="#6d6d6d"/>
<rect x="874" y="826" width="1" height="13" fill="#6d6d6d"/>
<rect x="954" y="826" width="1" height="13" fill="#6d6d6d"/>
<rect x="1058" y="826" width="1" height="13" fill="#6d6d6d"/>
<rect x="1178" y="826" width="1" height="13" fill="#6d6d6d"/>
<path d="M1435.5 831L1439 827.5V834.5Z" fill="#8c8c8c"/><path d="M1458.5 831L1455 827.5V834.5Z" fill="#8c8c8c"/>
<rect x="5" y="80" width="223" height="11" fill="#fff"/>
<linearGradient id="gP" gradientUnits="userSpaceOnUse" x1="0" y1="43" x2="0" y2="107"><stop offset="0" stop-color="#5f5fff"/><stop offset="0.375" stop-color="#3c3ce8"/><stop offset="1" stop-color="#0000b0"/></linearGradient>
<path d="M8.5 43.5H59.5V67.5H116.5V106.5H8.5Z" fill="url(#gP)" stroke="#0000a0" stroke-width="1" shape-rendering="crispEdges"/>
<path d="M226.5 43.5H175.5V67.5H119.5V106.5H226.5Z" fill="url(#gP)" stroke="#0000a0" stroke-width="1" shape-rendering="crispEdges"/>
<rect x="12" y="66" width="44" height="1" fill="#1010b0"/><rect x="12" y="67" width="44" height="1" fill="#8080ff"/>
<rect x="179" y="66" width="44" height="1" fill="#1010b0"/><rect x="179" y="67" width="44" height="1" fill="#8080ff"/>
<rect x="62.5" y="43.5" width="110" height="21" fill="#fff" stroke="#a8a8a8" shape-rendering="crispEdges"/>
<rect x="64" y="45" width="18" height="6" fill="#f0f0f0"/><rect x="64" y="51" width="18" height="12" fill="#d8d8d8"/><rect x="83" y="44" width="1" height="20" fill="#a8a8a8"/>
<rect x="153" y="45" width="18" height="6" fill="#f0f0f0"/><rect x="153" y="51" width="18" height="12" fill="#d8d8d8"/><rect x="151" y="44" width="1" height="20" fill="#a8a8a8"/>
<path d="M69.5 52H75.5L72.5 55Z" fill="#4858b8"/><path d="M158.5 55H164.5L161.5 52Z" fill="#4858b8"/>
<text x="124.8" y="58" font-size="12" fill="#000" textLength="22.2" lengthAdjust="spacingAndGlyphs" xml:space="preserve">1.00</text>
<text x="20.6" y="59" font-size="11.2" fill="#f0f0ff" textLength="25.4" lengthAdjust="spacingAndGlyphs" xml:space="preserve">SELL</text>
<text x="188.6" y="59" font-size="11.2" fill="#f0f0ff" textLength="23.4" lengthAdjust="spacingAndGlyphs" xml:space="preserve">BUY</text>
<text x="28" y="98" font-size="12.2" fill="#fff" font-weight="bold" textLength="23.7" lengthAdjust="spacingAndGlyphs" xml:space="preserve">7.15</text>
<text x="55.5" y="98" font-size="33" fill="#fff" textLength="34.2" lengthAdjust="spacingAndGlyphs" xml:space="preserve">76</text>
<text x="95.5" y="82" font-size="11.5" fill="#fff" font-weight="bold" xml:space="preserve">2</text>
<text x="138.3" y="98" font-size="12.2" fill="#fff" font-weight="bold" textLength="23.5" lengthAdjust="spacingAndGlyphs" xml:space="preserve">7.16</text>
<text x="166.2" y="98" font-size="33" fill="#fff" textLength="34.5" lengthAdjust="spacingAndGlyphs" xml:space="preserve">01</text>
<text x="206" y="82" font-size="11.5" fill="#fff" font-weight="bold" xml:space="preserve">6</text>
</svg></body></html>
